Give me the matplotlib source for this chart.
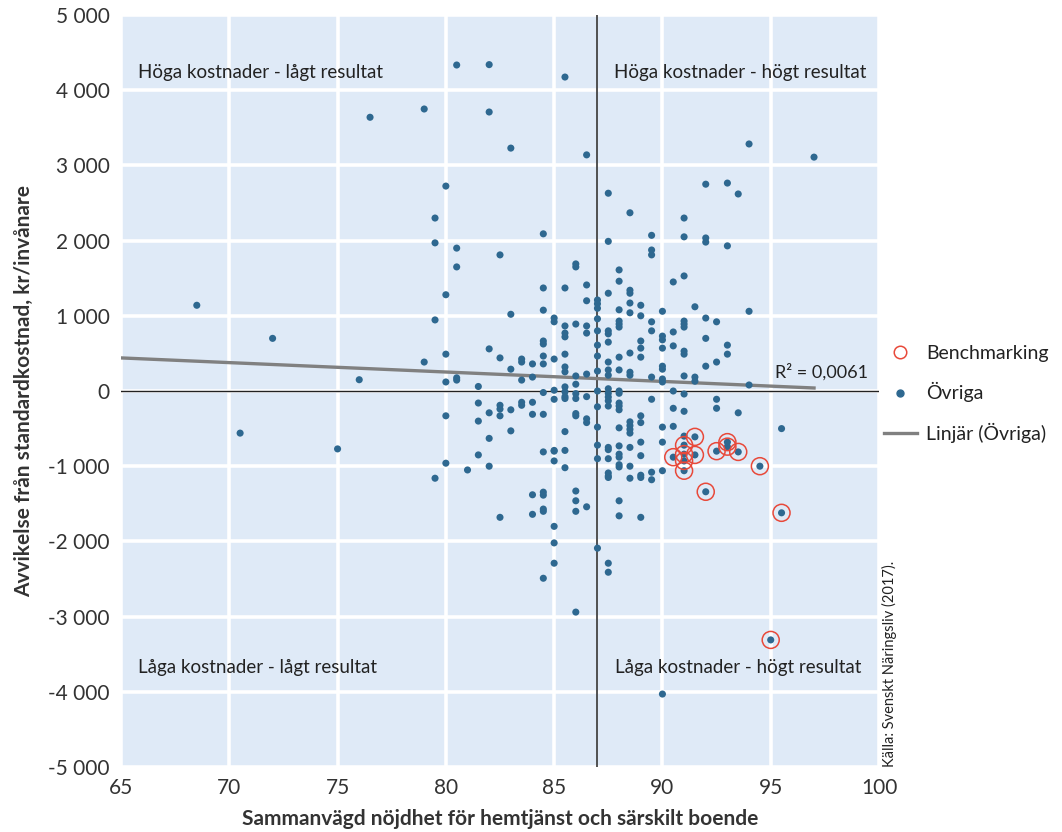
import matplotlib
matplotlib.use("Agg")
import matplotlib.pyplot as plt
from matplotlib.ticker import FuncFormatter
from matplotlib.lines import Line2D

# ---------------- data ----------------
ovriga_x = [
    68.5, 72, 70.5, 75, 76, 76.5, 79, 80.5, 82, 85.5, 82, 83, 86.5, 80, 87.5, 88.5,
    79.5, 84.5, 79.5, 80.5, 82.5, 87.5, 89.5, 89.5, 89.5, 86, 86, 80.5, 94, 97, 92,
    93, 93.5, 91, 91, 92, 92, 93,
    80, 84.5, 85.5, 86.5, 86.5, 87, 87, 87, 79.5, 83, 84.5, 85, 85, 85.5, 86, 86.5,
    87, 87, 86.5, 85.5, 85.5, 84.5, 84.5, 87, 82, 82.5, 79, 80, 83.5, 83.5, 84, 84.5,
    84.5, 85, 85.5, 87, 83, 85.5, 85.5, 87, 86, 86.5, 80, 80.5, 80.5, 83.5, 84, 81.5,
    86, 84.5, 85, 85, 85.5, 85.5, 85.5, 85.5, 86, 86, 86.5, 87, 87, 81.5, 82.5, 82.5,
    82.5, 82, 83, 83.5, 83.5, 84, 84, 84.5, 80, 81.5, 83, 82, 85.5, 86, 86, 86.5,
    86.5, 87, 87, 85, 85.5,
    88, 88, 87.5, 88.5, 88.5, 88.5, 89, 88.5, 89, 88, 90, 90.5, 91, 91.5, 94, 92,
    92.5, 89.5, 89.5, 88, 88, 88, 87.5, 87.5, 87.5, 91, 91, 91, 90.5, 90, 90, 90,
    89, 89, 89, 88.5, 88, 87.5, 87.5, 88, 87.5, 88.5, 88.5, 89.5, 90, 90, 90, 90,
    90.5, 91, 91, 92, 92, 92.5, 93, 93, 91, 91.5, 91.5, 94, 87.5, 87.5, 87.5, 87.5,
    87.5, 88, 88, 88, 88, 88, 89.5, 90.5, 91, 90.5, 91, 92.5, 92.5, 93.5, 95.5, 89,
    88.5, 88.5, 88.5, 88.5, 89, 88, 90, 90.5, 89, 90, 88, 88.5, 87.5,
    91, 87.5, 87, 87.5, 88, 88, 88, 88, 88.5, 89, 87.5, 87.5, 87.5, 88.5, 89, 89,
    89.5, 89.5, 90, 86.5, 88, 88, 89, 87, 87.5, 87.5,
    81.5, 80, 81, 82, 79.5, 84.5, 85, 85, 85.5, 84, 84.5, 84.5, 84.5, 84.5, 84,
    82.5, 85, 85, 85, 84.5, 86, 86, 86, 86, 90,
]
ovriga_y = [
    1140, 700, -560, -770, 150, 3640, 3750, 4335, 4340, 4175, 3710, 3230, 3140, 2725, 2630, 2370,
    2300, 2090, 1970, 1900, 1810, 1990, 2070, 1875, 1810, 1690, 1650, 1650, 3285, 3110, 2750,
    2765, 2620, 2300, 2050, 2035, 1980, 1930,
    1280, 1370, 1370, 1410, 1200, 1210, 1160, 1100, 945, 1020, 1075, 970, 920, 865, 890, 865,
    960, 800, 770, 770, 720, 665, 625, 610, 560, 440, 385, 490, 425, 385, 360, 465,
    360, 425, 490, 465, 290, 320, 255, 265, 200, 225, 120, 175, 145, 145, 185, 60,
    90, -20, 10, -110, 55, -10, -75, -100, -35, -100, -75, 0, -210, -160, -190, -240,
    -330, -290, -250, -150, -190, -150, -310, -310, -330, -400, -530, -630, -540, -300, -330, -370,
    -420, -480, -720, -790, -790,
    1610, 1460, 1300, 1340, 1300, 1170, 1140, 1040, 1000, 1080, 1060, 1450, 1530, 1120, 1060, 970,
    920, 920, 800, 930, 890, 850, 800, 760, 650, 930, 890, 850, 785, 730, 680, 570,
    665, 570, 450, 505, 450, 385, 280, 280, 210, 250, 210, 185, 330, 290, 160, 120,
    600, 530, 490, 700, 330, 385, 610, 490, 200, 185, 130, 80, 30, -30, -80, -130,
    -200, 0, -30, -160, -200, -250, -110, 0, -40, -230, -270, -110, -230, -290, -500, -330,
    -410, -460, -510, -560, -420, -490, -480, -470, -680, -680, -730, -750, -750,
    -600, -780, -900, -900, -840, -880, -980, -1010, -1000, -860, -1090, -1130, -1150, -1160, -1120, -1150,
    -1080, -1180, -1060, -1540, -1460, -1660, -1680, -2090, -2290, -2410,
    -850, -960, -1050, -1000, -1160, -810, -800, -930, -1020, -1380, -1345, -1385, -1570, -1600, -1640,
    -1680, -1800, -2020, -2290, -2490, -1330, -1460, -1600, -2940, -4030,
]

bench_x = [91.5, 91, 90.5, 91, 91, 91.5, 91, 92.5, 93, 93, 93.5, 94.5, 92, 95.5, 95]
bench_y = [-610, -720, -880, -840, -930, -850, -1060, -800, -680, -740, -810, -1000, -1340, -1620, -3310]

trend_x = [65, 97]
trend_y = [440, 40]
r2_text = "R² = 0,0061"

x_ticks = [65, 70, 75, 80, 85, 90, 95, 100]
y_ticks = [-5000, -4000, -3000, -2000, -1000, 0, 1000, 2000, 3000, 4000, 5000]

quadrant_labels = [
    ("Höga kostnader - lågt resultat", 65.8, 4230, "left"),
    ("Höga kostnader - högt resultat", 99.4, 4230, "right"),
    ("Låga kostnader - lågt resultat", 65.8, -3680, "left"),
    ("Låga kostnader - högt resultat", 99.2, -3680, "right"),
]

x_label = "Sammanvägd nöjdhet för hemtjänst och särskilt boende"
y_label = "Avvikelse från standardkostnad, kr/invånare"
source = "Källa: Svenskt Näringsliv (2017)."

# ---------------- style ----------------
dot_color = "#2E6890"
bench_color = "#E8493A"
bg_color = "#DFEAF7"
text_color = "#222222"
font = "Lato"

plt.rcParams["font.family"] = [font, "DejaVu Sans"]

fig = plt.figure(figsize=(10.62, 8.32), dpi=100)
ax = fig.add_axes([121 / 1062, 65 / 832, (879 - 121) / 1062, (767 - 15) / 832])
ax.set_facecolor(bg_color)
for s in ax.spines.values():
    s.set_visible(False)

ax.set_xlim(65, 100)
ax.set_ylim(-5000, 5000)
ax.set_xticks(x_ticks)
ax.set_yticks(y_ticks)
ax.grid(True, color="white", linewidth=2.6, zorder=0)
ax.set_axisbelow(True)
ax.tick_params(length=0, pad=8)
ax.yaxis.set_major_formatter(FuncFormatter(lambda v, p: f"{int(v):,}".replace(",", " ")))
for lab in ax.get_xticklabels():
    lab.set_fontsize(15)
    lab.set_color("#333333")
for lab in ax.get_yticklabels():
    lab.set_fontsize(15)
    lab.set_color("#333333")

ax.axvline(87, color="#444444", linewidth=1.3, zorder=1)
ax.axhline(0, color="#222222", linewidth=1.0, zorder=1)

ax.plot(trend_x, trend_y, color="#808080", linewidth=2.4, zorder=2, label="Linjär (Övriga)")

ax.scatter(ovriga_x, ovriga_y, s=26, color=dot_color, edgecolors="none", zorder=3, label="Övriga")
ax.scatter(bench_x, bench_y, s=26, color=dot_color, edgecolors="none", zorder=3)
ax.scatter(bench_x, bench_y, s=150, facecolors="none", edgecolors=bench_color,
           linewidths=1.1, zorder=4, label="Benchmarking")

ax.text(99.5, 250, r2_text, ha="right", va="center", fontsize=13, color=text_color, zorder=5)

for txt, x, y, ha in quadrant_labels:
    ax.text(x, y, txt, ha=ha, va="center", fontsize=13.5, color=text_color, zorder=5)

ax.set_xlabel(x_label, fontsize=15, fontweight="bold", color="#333333", labelpad=8)
ax.set_ylabel(y_label, fontsize=15, fontweight="bold", color="#333333", labelpad=10)

handles = [
    Line2D([], [], marker="o", linestyle="none", markerfacecolor="none",
           markeredgecolor=bench_color, markersize=9, markeredgewidth=1.1),
    Line2D([], [], marker="o", linestyle="none", color=dot_color, markersize=5),
    Line2D([], [], color="#808080", linewidth=2.4),
]
labels = ["Benchmarking", "Övriga", "Linjär (Övriga)"]
fig.legend(handles, labels, loc="center left", bbox_to_anchor=(882 / 1062, 1 - 394 / 832),
           frameon=False, fontsize=14, labelspacing=1.05, handlelength=1.7,
           handletextpad=0.45, labelcolor=text_color, borderaxespad=0, borderpad=0.1)

fig.text(889 / 1062, 1 - 767 / 832, source, rotation=90, ha="center", va="bottom",
         fontsize=10.5, color=text_color)

fig.savefig("out.png", dpi=100)
